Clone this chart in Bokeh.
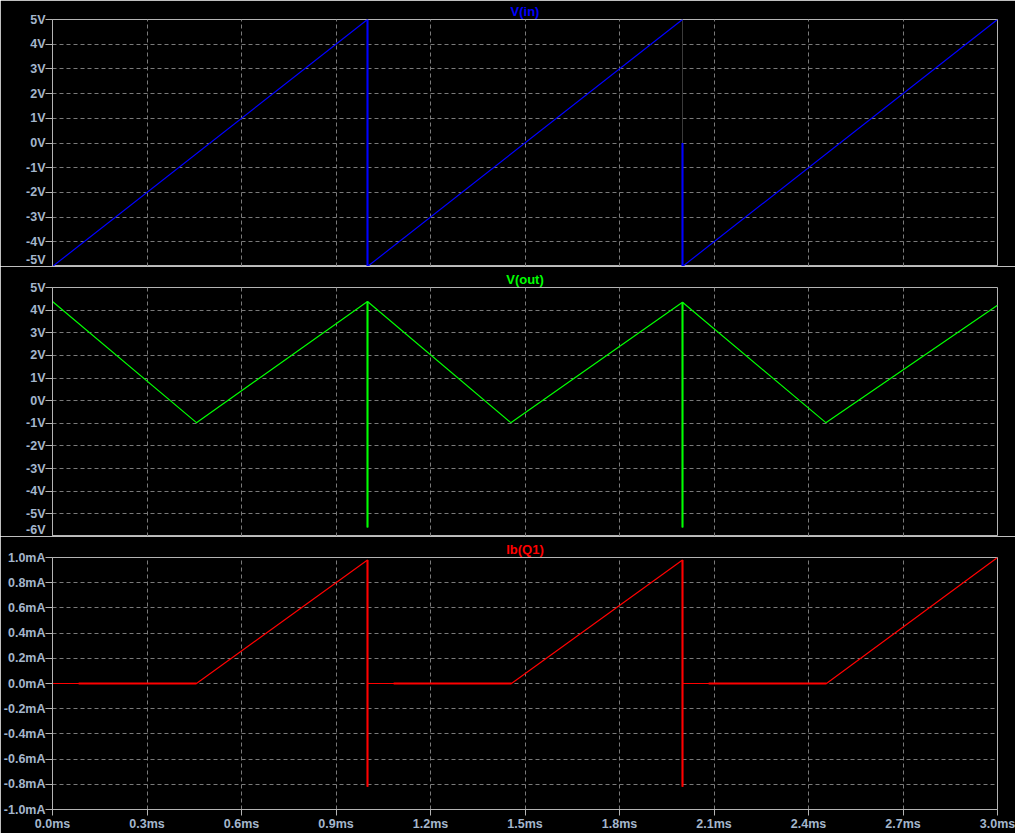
from bokeh.plotting import figure
from bokeh.layouts import column
from bokeh.models import Range1d, FixedTicker, Title
from bokeh.embed import file_html
from bokeh.resources import INLINE

NAN = float("nan")

# ---- data ----
t_in = [0.0, 1.0, 1.0, 2.0, NAN, 2.0, 2.0, 3.0]
v_in = [-5.0, 5.0, -5.0, 5.0, NAN, 0.0, -5.0, 5.0]

t_out = [0.0, 0.457, 1.0, 1.0, 1.0, 1.455, 2.0, 2.0, 2.0, 2.455, 3.0]
v_out = [4.38, -0.97, 4.38, -5.6, 4.38, -0.97, 4.35, -5.6, 4.35, -0.97, 4.22]

t_ib = [0.0, 0.457, 1.0, 1.0, 1.0, 1.457, 2.0, 2.0, 2.0, 2.457, 3.0]
ib = [0.0, 0.0, 0.98, -0.82, 0.0, 0.0, 0.98, -0.82, 0.0, 0.0, 1.0]

# flat (cut-off) stretches of Ib(Q1) that show as a heavier trace
ib_flat_start = [0.083, 1.083, 2.083]
ib_flat_end = [0.457, 1.457, 2.457]

x_ticks = [0.0, 0.3, 0.6, 0.9, 1.2, 1.5, 1.8, 2.1, 2.4, 2.7, 3.0]
x_labels = ["0.0ms", "0.3ms", "0.6ms", "0.9ms", "1.2ms", "1.5ms", "1.8ms", "2.1ms", "2.4ms", "2.7ms", "3.0ms"]
y1_ticks = [-5, -4, -3, -2, -1, 0, 1, 2, 3, 4, 5]
y1_labels = ["-5V", "-4V", "-3V", "-2V", "-1V", "0V", "1V", "2V", "3V", "4V", "5V"]
y2_ticks = [-6, -5, -4, -3, -2, -1, 0, 1, 2, 3, 4, 5]
y2_labels = ["-6V", "-5V", "-4V", "-3V", "-2V", "-1V", "0V", "1V", "2V", "3V", "4V", "5V"]
y3_ticks = [-1.0, -0.8, -0.6, -0.4, -0.2, 0.0, 0.2, 0.4, 0.6, 0.8, 1.0]
y3_labels = ["-1.0mA", "-0.8mA", "-0.6mA", "-0.4mA", "-0.2mA", "0.0mA", "0.2mA", "0.4mA", "0.6mA", "0.8mA", "1.0mA"]

titles = ["V(in)", "V(out)", "Ib(Q1)"]
colors = ["#0000ff", "#00ff00", "#ff0000"]

FONT = "Liberation Sans"
TICK_COLOR = "#a4b6cc"
FRAME_COLOR = "#b4b4b4"
GRID_COLOR = "#7a7a7a"

W = 1015
LEFT = 52
RIGHT = 18

x_range = Range1d(0, 3)


def style_axis(ax, tick_out, standoff):
    ax.major_label_text_color = TICK_COLOR
    ax.major_label_text_font = FONT
    ax.major_label_text_font_style = "bold"
    ax.major_label_text_font_size = "12.5px"
    ax.major_label_standoff = standoff
    ax.major_tick_out = tick_out
    ax.major_tick_in = 0
    ax.minor_tick_out = 0
    ax.minor_tick_in = 0
    ax.major_tick_line_color = FRAME_COLOR
    ax.axis_line_color = FRAME_COLOR


def make(yr, yt, yl, title, color, height, top, bottom, show_x):
    p = figure(width=W, height=height, x_range=x_range, y_range=Range1d(*yr),
               output_backend="svg", toolbar_location=None,
               min_border_left=LEFT, min_border_right=RIGHT,
               min_border_top=top, min_border_bottom=bottom)
    p.background_fill_color = "#000000"
    p.border_fill_color = "#000000"
    p.outline_line_color = FRAME_COLOR
    p.outline_line_width = 1

    ya = p.yaxis[0]
    ya.ticker = FixedTicker(ticks=yt)
    ya.major_label_overrides = {v: s for v, s in zip(yt, yl)}
    style_axis(ya, 7, 0)

    xa = p.xaxis[0]
    xa.ticker = FixedTicker(ticks=x_ticks)
    xa.major_label_overrides = {v: s for v, s in zip(x_ticks, x_labels)}
    style_axis(xa, 6, 1)
    if not show_x:
        xa.visible = False

    for g in (p.xgrid[0], p.ygrid[0]):
        g.grid_line_color = GRID_COLOR
        g.grid_line_dash = "4 3"
        g.grid_line_width = 1

    p.title = Title(text=title, align="center", text_color=color,
                    text_font=FONT, text_font_style="bold",
                    text_font_size="13px", standoff=2)
    return p


LW = 1.2

p1 = make((-5, 5), y1_ticks, y1_labels, titles[0], colors[0], 266, 18, 0, False)
# faint trace left by the fast edge at 2 ms
p1.segment(x0=[2.0], y0=[5.0], x1=[2.0], y1=[0.0], line_color="#3a3a3a", line_width=1)
p1.line(t_in, v_in, line_color=colors[0], line_width=LW)

p2 = make((-6, 5), y2_ticks, y2_labels, titles[1], colors[1], 270, 21, 0, False)
p2.line(t_out, v_out, line_color=colors[1], line_width=LW)

p3 = make((-1, 1), y3_ticks, y3_labels, titles[2], colors[2], 297, 21, 24, True)
p3.line(t_ib, ib, line_color=colors[2], line_width=LW)
p3.segment(x0=ib_flat_start, y0=[0.0] * 3, x1=ib_flat_end, y1=[0.0] * 3,
           line_color=colors[2], line_width=2)

# the fast transients are drawn a little heavier, as in the reference
spike_t = [1.0, 2.0]
p1.segment(x0=[1.0, 2.0], y0=[5.0, 0.0], x1=[1.0, 2.0], y1=[-5.0, -5.0],
           line_color=colors[0], line_width=2)
p2.segment(x0=spike_t, y0=[v_out[3], v_out[7]], x1=spike_t, y1=[v_out[2], v_out[6]],
           line_color=colors[1], line_width=2)
p3.segment(x0=spike_t, y0=[ib[3], ib[7]], x1=spike_t, y1=[ib[2], ib[6]],
           line_color=colors[2], line_width=2)

layout = column(p1, p2, p3, spacing=0)

html = file_html(layout, INLINE)
html = html.replace("<body>", '<body style="background-color:#000000;margin:0;">', 1)
open("out.html", "w").write(html)
